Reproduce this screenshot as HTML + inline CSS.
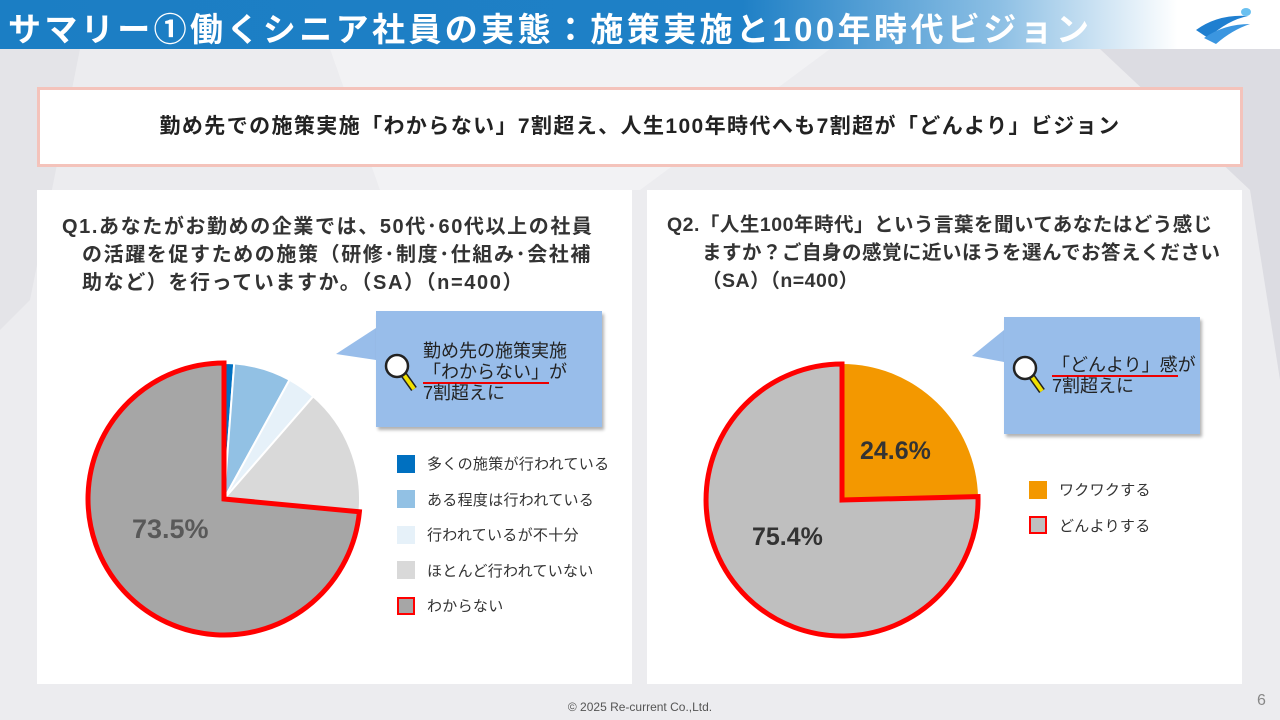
<!DOCTYPE html>
<html><head><meta charset="utf-8"><style>
*{margin:0;padding:0;box-sizing:border-box}
body{width:1280px;height:720px;position:relative;overflow:hidden;background:#ececef;font-family:"Liberation Sans","Noto Sans CJK JP",sans-serif;color:#333}
.hdr{position:absolute;left:0;top:0;width:1280px;height:49px;background:linear-gradient(90deg,#1b7ec4 0%,#1f80c6 58%,#8cbfe4 78%,#ffffff 92%,#fff 100%)}
.hdr h1{position:absolute;left:8px;top:3px;font-size:33px;color:#fff;font-weight:bold;letter-spacing:3.4px;white-space:nowrap}
.box{position:absolute;left:37px;top:87px;width:1206px;height:80px;background:#fff;border:3px solid #f4c3bb}
.box p{text-align:center;line-height:74px;font-size:21px;font-weight:bold;color:#222;letter-spacing:1.4px}
.panel{position:absolute;top:190px;height:494px;background:#fff}
.q{position:absolute;font-size:20px;line-height:28px;font-weight:bold;color:#333}
.call{position:absolute;background:#98bdea;box-shadow:2px 3px 3px rgba(0,0,0,.3);font-size:18px;line-height:21px;color:#222}
.lg{position:absolute;font-size:15px;color:#333;letter-spacing:0.3px}
.lg div{height:35.5px;display:flex;align-items:center}
.lg span{display:inline-block;width:18px;height:18px;margin-right:12px}
</style></head><body>
<svg width="1280" height="720" style="position:absolute;left:0;top:0">
<polygon points="0,49 80,49 30,300 0,330" fill="#e4e4e8"/>
<polygon points="330,49 830,49 640,190 380,190" fill="#f2f2f4"/>
<polygon points="1100,49 1280,49 1280,380 1250,190" fill="#dcdce2"/>
</svg>
<div class="hdr"><h1>サマリー①働くシニア社員の実態：施策実施と100年時代ビジョン</h1>
<svg width="70" height="40" style="position:absolute;left:1188px;top:6px"><path d="M8 24 Q30 8 60 10 Q40 14 20 32Z" fill="#1f7fd0"/><path d="M16 32 Q36 18 62 18 Q44 24 28 38Z" fill="#3b96e0"/><ellipse cx="58" cy="6" rx="5" ry="4" fill="#6ac0f0"/></svg></div>
<div class="box"><p>勤め先での施策実施「わからない」7割超え、人生100年時代へも7割超が「どんより」ビジョン</p></div>

<div class="panel" style="left:37px;width:595px"></div>
<div class="panel" style="left:647px;width:595px"></div>

<div class="q" style="left:62px;top:213px;width:570px;letter-spacing:1.6px">Q1.あなたがお勤めの企業では、50代･60代以上の社員<br><span style="padding-left:20px">の活躍を促すための施策（研修･制度･仕組み･会社補</span><br><span style="padding-left:20px">助など）を行っていますか。（SA）（n=400）</span></div>
<div class="q" style="left:667px;top:211px;width:575px;font-size:19.5px;letter-spacing:0.5px">Q2.「人生100年時代」という言葉を聞いてあなたはどう感じ<br><span style="padding-left:35px">ますか？ご自身の感覚に近いほうを選んでお答えください</span><br><span style="padding-left:35px">（SA）（n=400）</span></div>

<svg width="1280" height="720" style="position:absolute;left:0;top:0">
<path d="M224 499 L224 363 A136 136 0 0 1 234.2 363.4Z" fill="#0070c0" stroke="#fff" stroke-width="2"/>
<path d="M224 499 L234.2 363.4 A136 136 0 0 1 289.5 379.8Z" fill="#92c1e4" stroke="#fff" stroke-width="2"/>
<path d="M224 499 L289.5 379.8 A136 136 0 0 1 313.3 396.4Z" fill="#e6f1f9" stroke="#fff" stroke-width="2"/>
<path d="M224 499 L313.3 396.4 A136 136 0 0 1 359.4 511.8Z" fill="#d9d9d9" stroke="#fff" stroke-width="2"/>
<path d="M224 499 L359.4 511.8 A136 136 0 1 1 224 363Z" fill="#a6a6a6" stroke="#ff0000" stroke-width="5" stroke-linejoin="miter"/>
<text x="132" y="538" font-size="27" font-weight="bold" fill="#595959" font-family="Liberation Sans, sans-serif">73.5%</text>
<polygon points="336,354 376,328 376,360" fill="#98bdea"/>
<path d="M842 500 L842 364 A136 136 0 0 1 978 496.6Z" fill="#f39800"/>
<path d="M842 500 L978 496.6 A136 136 0 1 1 842 364Z" fill="#bfbfbf" stroke="#ff0000" stroke-width="5"/>
<text x="860" y="459" font-size="25" font-weight="bold" fill="#333" font-family="Liberation Sans, sans-serif">24.6%</text>
<text x="752" y="545" font-size="25" font-weight="bold" fill="#333" font-family="Liberation Sans, sans-serif">75.4%</text>
<polygon points="972,356 1004,330 1004,362" fill="#98bdea"/>
</svg>

<div class="call" style="left:376px;top:311px;width:226px;height:116px">
<svg width="36" height="46" style="position:absolute;left:8px;top:40px"><line x1="20" y1="24" x2="30" y2="38" stroke="#222" stroke-width="7"/><line x1="20" y1="24" x2="30" y2="38" stroke="#f0e000" stroke-width="4"/><circle cx="13" cy="15" r="11" fill="#fff" stroke="#222" stroke-width="2.5"/></svg>
<div style="position:absolute;left:47px;top:30px">勤め先の施策実施<br><span style="border-bottom:2px solid #e00">「わからない」</span>が<br>7割超えに</div></div>
<div class="call" style="left:1004px;top:317px;width:196px;height:117px">
<svg width="36" height="46" style="position:absolute;left:8px;top:36px"><line x1="20" y1="24" x2="30" y2="38" stroke="#222" stroke-width="7"/><line x1="20" y1="24" x2="30" y2="38" stroke="#f0e000" stroke-width="4"/><circle cx="13" cy="15" r="11" fill="#fff" stroke="#222" stroke-width="2.5"/></svg>
<div style="position:absolute;left:48px;top:38px"><span style="border-bottom:2px solid #e00">「どんより」感</span>が<br>7割超えに</div></div>

<div class="lg" style="left:397px;top:446px">
<div><span style="background:#0070c0"></span>多くの施策が行われている</div>
<div><span style="background:#92c1e4"></span>ある程度は行われている</div>
<div><span style="background:#e6f1f9"></span>行われているが不十分</div>
<div><span style="background:#d9d9d9"></span>ほとんど行われていない</div>
<div><span style="background:#a6a6a6;border:2px solid #f00"></span>わからない</div>
</div>
<div class="lg" style="left:1029px;top:472px">
<div><span style="background:#f39800"></span>ワクワクする</div>
<div><span style="background:#bfbfbf;border:2px solid #f00"></span>どんよりする</div>
</div>
<div style="position:absolute;left:0;width:1280px;top:700px;text-align:center;font-size:12px;color:#555">© 2025 Re-current Co.,Ltd.</div>
<div style="position:absolute;left:1257px;top:692px;font-size:16px;color:#888">6</div>
</body></html>
